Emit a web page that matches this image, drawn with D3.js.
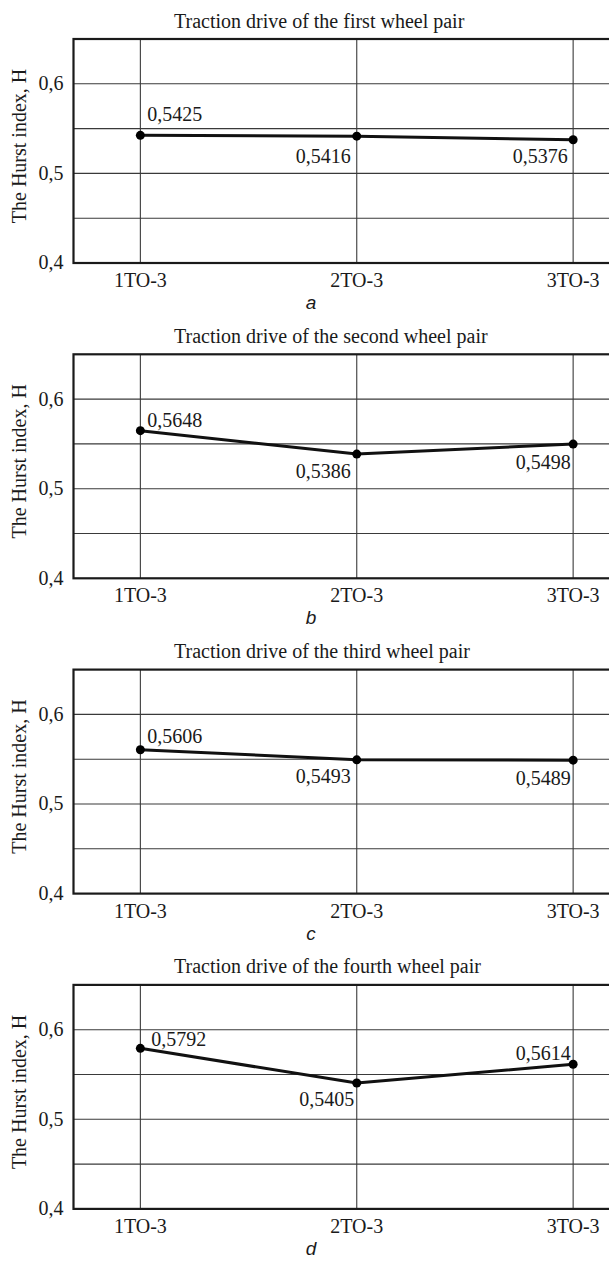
<!DOCTYPE html>
<html>
<head>
<meta charset="utf-8">
<script src="https://cdn.jsdelivr.net/npm/d3@7/dist/d3.min.js"></script>
<style>
  html, body { margin: 0; padding: 0; background: #fff; }
  svg { display: block; }
  .serif { font-family: "Liberation Serif", "Times New Roman", serif; fill: #1a1a1a; }
  .letter { font-family: "Liberation Sans", Arial, sans-serif; font-style: italic; fill: #1a1a1a; }
</style>
</head>
<body>
<svg id="chart" width="609" height="1261"></svg>
<script>
// Hurst index of the traction drives after maintenance stages
const categories = ["1TO-3", "2TO-3", "3TO-3"];
const titles = [
  "Traction drive of the first wheel pair",
  "Traction drive of the second wheel pair",
  "Traction drive of the third wheel pair",
  "Traction drive of the fourth wheel pair"
];
const letters = ["a", "b", "c", "d"];
const firstPair  = [0.5425, 0.5416, 0.5376];
const secondPair = [0.5648, 0.5386, 0.5498];
const thirdPair  = [0.5606, 0.5493, 0.5489];
const fourthPair = [0.5792, 0.5405, 0.5614];
const yTickValues = [0.4, 0.5, 0.6];
const yGridValues = [0.45, 0.5, 0.55, 0.6];
const yTitle = "The Hurst index, H";

const series = [firstPair, secondPair, thirdPair, fourthPair];

// label offsets from each point: [dx, dy, anchor]
const labelOffsets = [
  [[7, -14, "start"], [-6, 27, "end"], [-5.5, 23, "end"]],
  [[7, -4, "start"], [-6, 24, "end"], [-2.5, 25, "end"]],
  [[7, -7, "start"], [-6, 23.5, "end"], [-2.5, 25, "end"]],
  [[11, -2.5, "start"], [-2.5, 23, "end"], [-2.5, -4, "end"]]
];

const fmt = v => d3.format(".4f")(v).replace(".", ",");
const fmtTick = v => d3.format(".1f")(v).replace(".", ",");

const svg = d3.select("#chart");
const frameLeft = 73.5, frameRight = 640;
const panelHeight = 224, panelStep = 315.3, firstTop = 39;

const x = d3.scalePoint()
  .domain(categories)
  .range([frameLeft, frameRight])
  .padding(0.309);

series.forEach((values, i) => {
  const top = firstTop + i * panelStep;
  const bottom = top + panelHeight;
  const y = d3.scaleLinear().domain([0.4, 0.65]).range([bottom, top]);
  const g = svg.append("g");

  // horizontal grid
  g.selectAll("line.hgrid").data(yGridValues).join("line")
    .attr("class", "hgrid")
    .attr("x1", frameLeft).attr("x2", frameRight)
    .attr("y1", d => y(d)).attr("y2", d => y(d))
    .attr("stroke", "#3a3a3a").attr("stroke-width", 1.1);

  // vertical grid at each category
  g.selectAll("line.vgrid").data(categories).join("line")
    .attr("class", "vgrid")
    .attr("x1", d => x(d)).attr("x2", d => x(d))
    .attr("y1", top).attr("y2", bottom)
    .attr("stroke", "#3a3a3a").attr("stroke-width", 1.1);

  // frame
  g.append("rect")
    .attr("x", frameLeft).attr("y", top)
    .attr("width", frameRight - frameLeft).attr("height", panelHeight)
    .attr("fill", "none").attr("stroke", "#1a1a1a").attr("stroke-width", 2.2);

  // y tick labels
  g.selectAll("text.ytick").data(yTickValues).join("text")
    .attr("class", "serif ytick")
    .attr("x", frameLeft - 10).attr("y", d => y(d))
    .attr("dy", "0.32em")
    .attr("text-anchor", "end")
    .attr("font-size", 20)
    .text(fmtTick);

  // x tick labels
  g.selectAll("text.xtick").data(categories).join("text")
    .attr("class", "serif xtick")
    .attr("x", d => x(d)).attr("y", bottom + 24)
    .attr("text-anchor", "middle")
    .attr("font-size", 20)
    .text(d => d);

  // y axis title
  g.append("text")
    .attr("class", "serif")
    .attr("transform", `translate(26,${(top + bottom) / 2 - 5}) rotate(-90)`)
    .attr("text-anchor", "middle")
    .attr("font-size", 20)
    .text(yTitle);

  // panel title
  g.append("text")
    .attr("class", "serif")
    .attr("x", 174).attr("y", top - 11.5)
    .attr("font-size", 20)
    .text(titles[i]);

  // series line
  const pts = categories.map((c, k) => ({ c, v: values[k], k }));
  g.append("path")
    .datum(pts)
    .attr("fill", "none")
    .attr("stroke", "#111")
    .attr("stroke-width", 3)
    .attr("stroke-linejoin", "round")
    .attr("d", d3.line().x(d => x(d.c)).y(d => y(d.v)));

  g.selectAll("circle.pt").data(pts).join("circle")
    .attr("class", "pt")
    .attr("cx", d => x(d.c)).attr("cy", d => y(d.v))
    .attr("r", 4.5)
    .attr("fill", "#000");

  // value labels
  g.selectAll("text.val").data(pts).join("text")
    .attr("class", "serif val")
    .attr("x", d => x(d.c) + labelOffsets[i][d.k][0])
    .attr("y", d => y(d.v) + labelOffsets[i][d.k][1])
    .attr("text-anchor", d => labelOffsets[i][d.k][2])
    .attr("font-size", 20)
    .text(d => fmt(d.v));

  // sub-figure letter
  g.append("text")
    .attr("class", "letter")
    .attr("x", 311).attr("y", bottom + 46)
    .attr("text-anchor", "middle")
    .attr("font-size", 19)
    .text(letters[i]);
});
</script>
</body>
</html>
